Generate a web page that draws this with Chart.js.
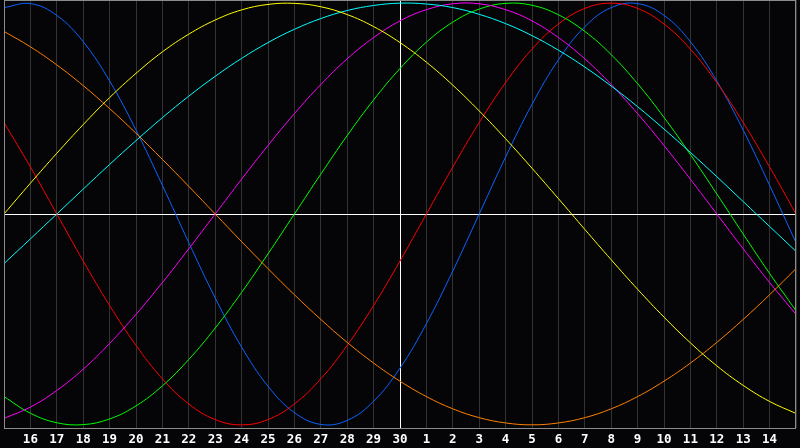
<!DOCTYPE html>
<html>
<head>
<meta charset="utf-8">
<script src="https://cdn.jsdelivr.net/npm/chart.js@4.4.1/dist/chart.umd.min.js"></script>
<style>
  html, body { margin: 0; padding: 0; background: #050508; }
  #wrap { width: 800px; height: 448px; }
</style>
</head>
<body>
<div id="wrap"><canvas id="bio" width="800" height="448"></canvas></div>
<script>
// day index 0..30 (15th .. 15th of next month), centre = 30th
const dayLabels = ['', '16', '17', '18', '19', '20', '21', '22', '23', '24', '25', '26', '27', '28', '29', '30',
  '1', '2', '3', '4', '5', '6', '7', '8', '9', '10', '11', '12', '13', '14', ''];

const physical = [0.979, 0.998, 0.942, 0.817, 0.631, 0.398, 0.136, -0.136, -0.398, -0.631, -0.817, -0.942, -0.998, -0.979, -0.888, -0.731,
  -0.520, -0.270, 0, 0.270, 0.520, 0.731, 0.888, 0.979, 0.998, 0.942, 0.817, 0.631, 0.398, 0.136, -0.136];
const emotional = [0.434, 0.223, 0, -0.223, -0.434, -0.623, -0.782, -0.901, -0.975, -1, -0.975, -0.901, -0.782, -0.623, -0.434, -0.223,
  0, 0.223, 0.434, 0.623, 0.782, 0.901, 0.975, 1, 0.975, 0.901, 0.782, 0.623, 0.434, 0.223, 0];
const intellectual = [-0.866, -0.945, -0.990, -0.999, -0.972, -0.910, -0.815, -0.690, -0.541, -0.372, -0.189, 0, 0.189, 0.372, 0.541, 0.690,
  0.815, 0.910, 0.972, 0.999, 0.990, 0.945, 0.866, 0.756, 0.618, 0.458, 0.282, 0.095, -0.095, -0.282, -0.458];
const intuitive = [-0.969, -0.916, -0.837, -0.736, -0.614, -0.476, -0.325, -0.165, 0, 0.165, 0.325, 0.476, 0.614, 0.736, 0.837, 0.916,
  0.969, 0.997, 0.997, 0.969, 0.916, 0.837, 0.736, 0.614, 0.476, 0.325, 0.165, 0, -0.165, -0.325, -0.476];
const aesthetic = [0, 0.146, 0.288, 0.424, 0.552, 0.667, 0.769, 0.853, 0.920, 0.968, 0.994, 0.999, 0.983, 0.946, 0.889, 0.813,
  0.720, 0.611, 0.489, 0.357, 0.217, 0.073, -0.073, -0.217, -0.357, -0.489, -0.611, -0.720, -0.813, -0.889, -0.946];
const awareness = [0.866, 0.793, 0.707, 0.609, 0.5, 0.383, 0.259, 0.131, 0, -0.131, -0.259, -0.383, -0.5, -0.609, -0.707, -0.793,
  -0.866, -0.924, -0.966, -0.991, -1, -0.991, -0.966, -0.924, -0.866, -0.793, -0.707, -0.609, -0.5, -0.383, -0.259];
const spiritual = [-0.235, -0.118, 0, 0.118, 0.235, 0.348, 0.457, 0.559, 0.653, 0.738, 0.813, 0.876, 0.927, 0.965, 0.989, 1.000,
  0.996, 0.979, 0.947, 0.903, 0.846, 0.777, 0.697, 0.607, 0.509, 0.403, 0.292, 0.177, 0.059, -0.059, -0.177];

function toPoints(values) {
  return values.map((v, i) => ({ x: i, y: v }));
}

function line(label, values, color) {
  return {
    label,
    data: toPoints(values),
    borderColor: color,
    borderWidth: 1,
    pointRadius: 0,
    tension: 0.4,
    fill: false
  };
}

// frame round the plot area
const framePlugin = {
  id: 'frame',
  beforeDraw(chart) {
    const c = chart.ctx;
    c.save();
    c.fillStyle = '#050508';
    c.fillRect(0, 0, chart.width, chart.height);
    c.restore();
  },
  afterDraw(chart) {
    const a = chart.chartArea;
    const c = chart.ctx;
    c.save();
    c.strokeStyle = '#8c8c8c';
    c.lineWidth = 1;
    c.strokeRect(a.left + 0.5, a.top + 0.5, a.right - a.left - 1, a.bottom - a.top);
    c.restore();
  }
};

new Chart(document.getElementById('bio').getContext('2d'), {
  type: 'line',
  data: {
    datasets: [
      line('Aesthetic', aesthetic, '#ffff00'),
      line('Spiritual', spiritual, '#00ffff'),
      line('Awareness', awareness, '#ff8000'),
      line('Intuitive', intuitive, '#ff00ff'),
      line('Intellectual', intellectual, '#00ff00'),
      line('Emotional', emotional, '#ff0000'),
      line('Physical', physical, '#0a64ff')
    ]
  },
  options: {
    responsive: false,
    animation: false,
    layout: { padding: 0 },
    plugins: {
      legend: { display: false },
      tooltip: { enabled: false }
    },
    scales: {
      x: {
        type: 'linear',
        min: 0,
        max: 30,
        afterFit(scale) { scale.height = 20; },
        border: { display: false },
        grid: {
          drawTicks: false,
          lineWidth: 1,
          color: (ctx) => (ctx.tick && ctx.tick.value === 15 ? '#ffffff' : '#323232')
        },
        ticks: {
          stepSize: 1,
          autoSkip: false,
          maxRotation: 0,
          padding: 4,
          color: '#ffffff',
          font: { family: 'DejaVu Sans Mono', size: 12.5, weight: 'bold' },
          callback: (value) => dayLabels[value]
        }
      },
      y: {
        min: -1.015,
        max: 1.015,
        afterFit(scale) { scale.width = 0; },
        border: { display: false },
        grid: {
          drawTicks: false,
          color: (ctx) => (ctx.tick && ctx.tick.value === 0 ? '#ffffff' : 'rgba(0,0,0,0)')
        },
        ticks: { display: false, stepSize: 1 }
      }
    }
  },
  plugins: [framePlugin]
});
</script>
</body>
</html>
